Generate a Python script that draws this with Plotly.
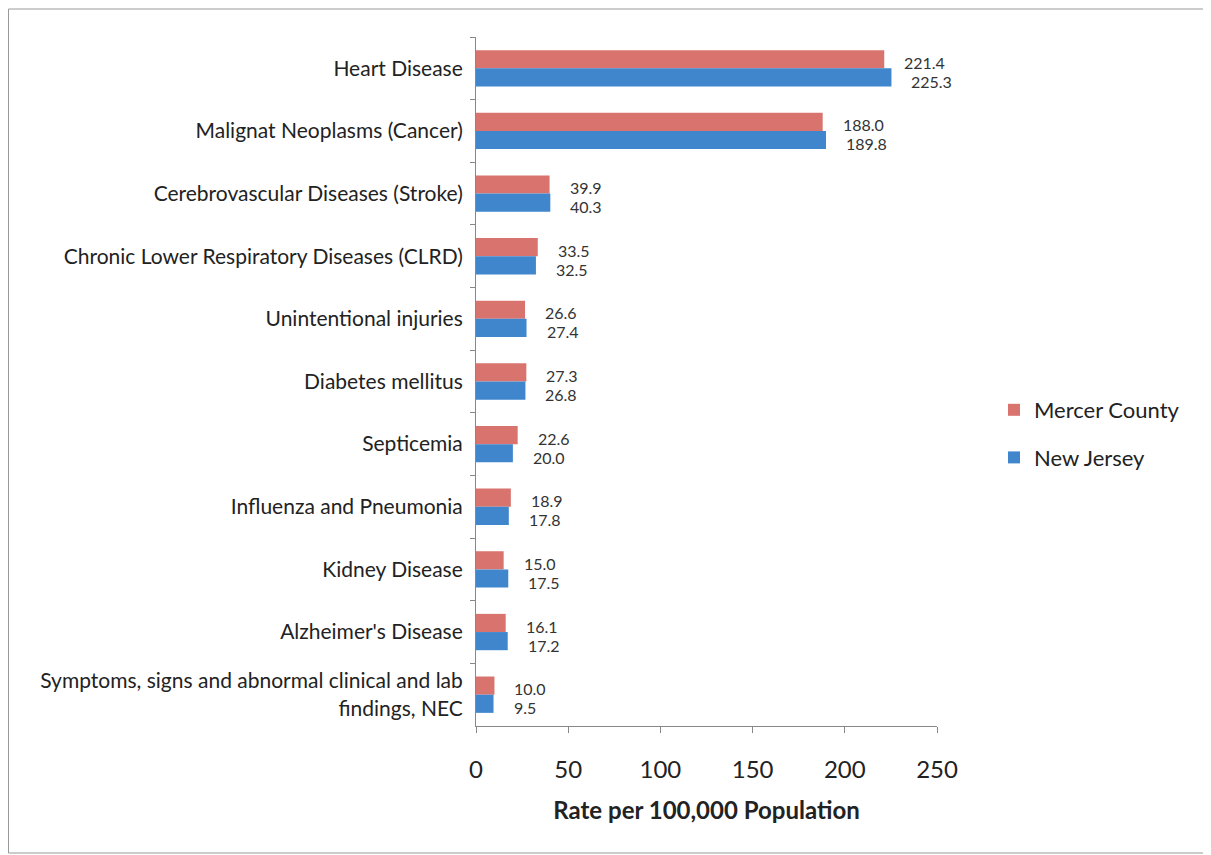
import plotly.graph_objects as go

categories = [
    "Heart Disease",
    "Malignat Neoplasms (Cancer)",
    "Cerebrovascular Diseases (Stroke)",
    "Chronic Lower Respiratory Diseases (CLRD)",
    "Unintentional injuries",
    "Diabetes mellitus",
    "Septicemia",
    "Influenza and Pneumonia",
    "Kidney Disease",
    "Alzheimer's Disease",
    "Symptoms, signs and abnormal clinical and lab<br>findings, NEC",
]
mercer = [221.4, 188.0, 39.9, 33.5, 26.6, 27.3, 22.6, 18.9, 15.0, 16.1, 10.0]
new_jersey = [225.3, 189.8, 40.3, 32.5, 27.4, 26.8, 20.0, 17.8, 17.5, 17.2, 9.5]
x_ticks = [0, 50, 100, 150, 200, 250]

RED = "#d9736d"
BLUE = "#3f86cd"
FONT = "Lato"
TXT = "#222222"

fig = go.Figure()
fig.add_trace(go.Bar(y=categories, x=mercer, orientation="h", name="Mercer County",
                     legendgroup="a", marker=dict(color=RED, line=dict(width=0))))
fig.add_trace(go.Bar(y=categories, x=new_jersey, orientation="h", name="New Jersey",
                     legendgroup="b", marker=dict(color=BLUE, line=dict(width=0))))

annotations = []
for c, m, n in zip(categories, mercer, new_jersey):
    annotations.append(dict(x=m, y=c, xref="x", yref="y", text=f"{m:.1f}", showarrow=False,
                            xanchor="left", yanchor="middle", xshift=18, yshift=6,
                            font=dict(family=FONT, size=16, color="#333333")))
    annotations.append(dict(x=n, y=c, xref="x", yref="y", text=f"{n:.1f}", showarrow=False,
                            xanchor="left", yanchor="middle", xshift=18, yshift=-13,
                            font=dict(family=FONT, size=16, color="#333333")))

# figure is placed at (8, 8) of the page by the default body margin
W, H = 1203, 847
L, T = 468, 29
R = W - 929
B = H - 718
pw, ph = W - L - R, H - T - B

def px_x(p):
    return (p - L) / pw

def px_y(p):
    return (H - B - p) / ph

fig.update_layout(
    width=W, height=H,
    margin=dict(l=L, r=R, t=T, b=B),
    paper_bgcolor="white", plot_bgcolor="white",
    barmode="group", bargap=0.42, bargroupgap=0.0,
    font=dict(family=FONT, color=TXT),
    annotations=annotations,
    legend=dict(x=px_x(986), y=px_y(381), xanchor="left", yanchor="top",
                font=dict(family=FONT, size=22, color=TXT),
                tracegroupgap=16, itemsizing="constant", traceorder="grouped"),
    xaxis=dict(range=[0, 250], tickvals=x_ticks, ticks="outside", ticklen=6,
               tickcolor="#888888", showline=True, linecolor="#888888", linewidth=1,
               showgrid=False, zeroline=False, ticklabelstandoff=16,
               tickfont=dict(family=FONT, size=24, color=TXT),
               title=dict(text="<b>Rate per 100,000 Population</b>", standoff=20,
                          font=dict(family=FONT, size=24, color=TXT))),
    yaxis=dict(autorange="reversed", ticks="outside", ticklen=5, tickson="boundaries",
               tickcolor="#888888", showline=True, linecolor="#888888", linewidth=1,
               showgrid=False, ticklabelstandoff=8,
               tickfont=dict(family=FONT, size=21, color=TXT)),
    shapes=[dict(type="rect", xref="paper", yref="paper",
                 x0=px_x(0.5), x1=px_x(1202), y0=px_y(845), y1=px_y(1),
                 line=dict(color="#999999", width=1))],
)

fig.write_html("out.html")
